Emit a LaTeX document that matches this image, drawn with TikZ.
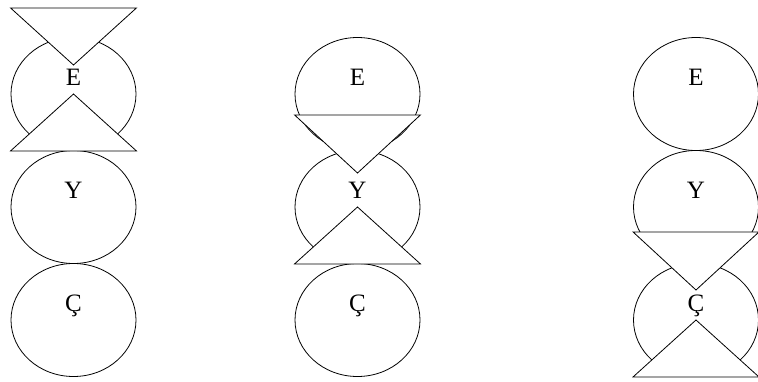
\documentclass[tikz,border=0pt]{standalone}
\usepackage{fontspec}
\setmainfont{Liberation Serif}
\usetikzlibrary{calc,shapes.geometric}

\begin{document}
\begin{tikzpicture}[x=1pt,y=-1pt,
  ell/.style={ellipse,draw,minimum width=125pt,minimum height=113pt,inner sep=0pt,line width=0.8pt},
  tri/.style={draw,fill=white,line width=0.8pt},
  lab/.style={anchor=base,inner sep=0pt,font=\fontsize{25}{30}\selectfont}]

\useasboundingbox (0,0) rectangle (758,381);

% three columns of E, Y, C
\foreach \c/\x in {1/73.5,2/357.5,3/696}{
  \node[ell] (e\c) at (\x,94) {};
  \node[ell] (y\c) at (\x,207) {};
  \node[ell] (c\c) at (\x,320) {};
}

% hourglass on E
\draw[tri] ($(e1.west)+(0,-86)$) -- ($(e1.east)+(0,-86)$) -- ($(e1)+(0,-29)$) -- cycle;
\draw[tri] (e1.west |- e1.south) -- (e1.east |- e1.south) -- (e1.center) -- cycle;

% hourglass on Y
\draw[tri] ($(y2.west)+(0,-92)$) -- ($(y2.east)+(0,-92)$) -- ($(y2)+(0,-34)$) -- cycle;
\draw[tri] (y2.west |- y2.south) -- (y2.east |- y2.south) -- (y2.center) -- cycle;

% hourglass on C
\draw[tri] ($(c3.west)+(0,-88)$) -- ($(c3.east)+(0,-88)$) -- ($(c3)+(0,-30)$) -- cycle;
\draw[tri] (c3.west |- c3.south) -- (c3.east |- c3.south) -- (c3.center) -- cycle;

\foreach \c in {1,2,3}{
  \node[lab] (le\c) at ($(e\c)+(0,-8.5)$) {E};
  \node[lab] (ly\c) at ($(y\c)+(0,-8.5)$) {Y};
  \node[lab] (lc\c) at ($(c\c)+(0,-8.5)$) {Ç};
}

\end{tikzpicture}
\end{document}
